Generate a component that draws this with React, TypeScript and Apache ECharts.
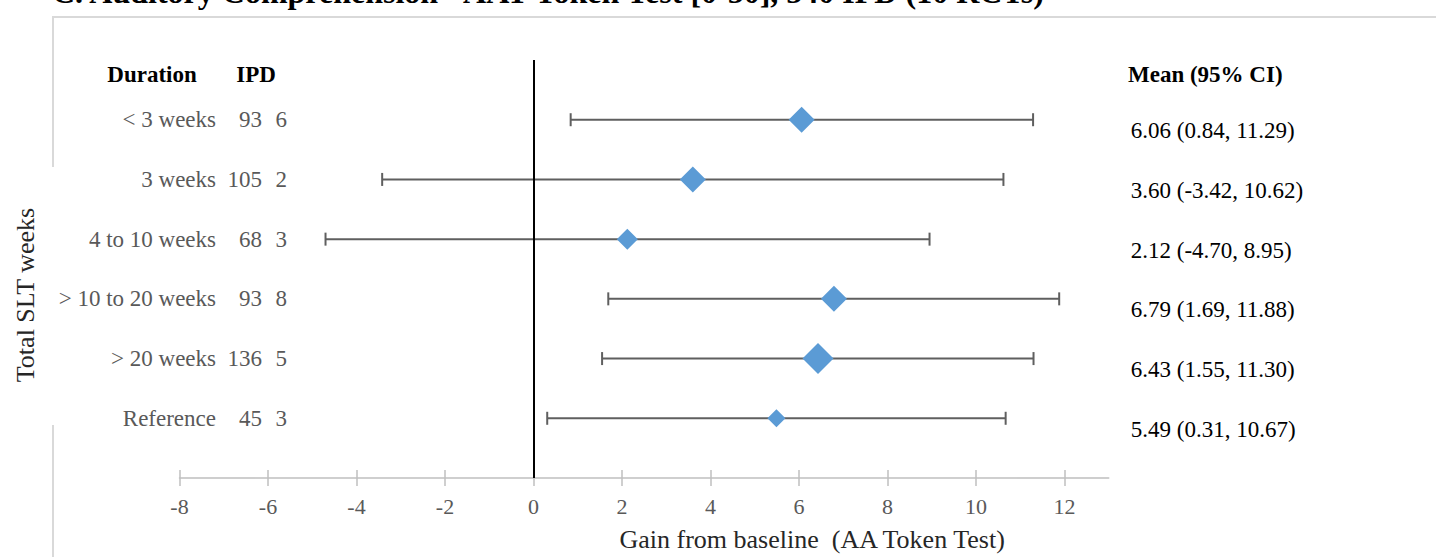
import React, { useEffect, useRef } from "react";
import * as echarts from "echarts";

const TITLE = "C. Auditory Comprehension - AAT Token Test [0-50], 540 IPD (10 RCTs)";
const categories = ["< 3 weeks", "3 weeks", "4 to 10 weeks", "> 10 to 20 weeks", "> 20 weeks", "Reference"];
const ipd = [93, 105, 68, 93, 136, 45];
const rcts = [6, 2, 3, 8, 5, 3];
const means = [6.06, 3.6, 2.12, 6.79, 6.43, 5.49];
const lowCI = [0.84, -3.42, -4.7, 1.69, 1.55, 0.31];
const highCI = [11.29, 10.62, 8.95, 11.88, 11.3, 10.67];
const markerSizes = [26, 26, 21, 26, 31, 18];
const xTicks = [-8, -6, -4, -2, 0, 2, 4, 6, 8, 10, 12];

const SERIF = "'Times New Roman', 'Liberation Serif', serif";
const N = categories.length;
const rowPos = categories.map((_, i) => N - i);

export default function App() {
  const ref = useRef<HTMLDivElement>(null);
  useEffect(() => {
    if (!ref.current) return;
    const chart = echarts.init(ref.current, null, { renderer: "svg" });
    const idxOf = (v: number) => N - Math.round(v);
    const option: any = {
      animation: false,
      backgroundColor: "#ffffff",
      grid: { left: 179.5, right: 327.25, top: 60, bottom: 77, containLabel: false },
      xAxis: [
        {
          type: "value",
          min: -8,
          max: 13,
          position: "bottom",
          axisLine: { show: true, lineStyle: { color: "#bfbfbf", width: 1.5 } },
          axisTick: { show: true, length: 8, inside: false, customValues: xTicks, lineStyle: { color: "#bfbfbf", width: 1.5 } },
          axisLabel: { show: true, customValues: xTicks, margin: 17, fontSize: 22, fontFamily: SERIF, color: "#595959" },
          splitLine: { show: false },
          name: "Gain from baseline  (AA Token Test)",
          nameLocation: "middle",
          nameGap: 48,
          nameTextStyle: { fontSize: 26, fontFamily: SERIF, color: "#262626", padding: [0, 0, 0, 336] },
        },
        {
          type: "value",
          min: -8,
          max: 13,
          position: "bottom",
          axisLine: { show: false },
          axisTick: { show: true, length: 8, inside: true, customValues: xTicks, lineStyle: { color: "#bfbfbf", width: 1.5 } },
          axisLabel: { show: false },
          splitLine: { show: false },
        },
      ],
      yAxis: [
        {
          type: "value",
          min: 0,
          max: 7,
          position: "left",
          axisLine: { show: false },
          axisTick: { show: false },
          splitLine: { show: false },
          axisLabel: {
            show: true,
            customValues: rowPos,
            margin: -107.5,
            align: "right",
            formatter: (v: number) => {
              const i = idxOf(v);
              return `{n|${categories[i]}}{i|${ipd[i]}}{r|${rcts[i]}}`;
            },
            rich: {
              n: { width: 160, align: "right", fontSize: 23, fontFamily: SERIF, color: "#595959" },
              i: { width: 46, align: "right", fontSize: 23, fontFamily: SERIF, color: "#595959" },
              r: { width: 25, align: "right", fontSize: 23, fontFamily: SERIF, color: "#595959" },
            },
          },
        },
        {
          type: "value",
          min: 0,
          max: 7,
          position: "right",
          axisLine: { show: false },
          axisTick: { show: false },
          splitLine: { show: false },
          axisLabel: {
            show: true,
            customValues: rowPos,
            margin: 22,
            verticalAlign: "top",
            lineHeight: 22,
            fontSize: 23,
            fontFamily: SERIF,
            color: "#000000",
            formatter: (v: number) => {
              const i = idxOf(v);
              return `${means[i].toFixed(2)} (${lowCI[i].toFixed(2)}, ${highCI[i].toFixed(2)})`;
            },
          },
        },
      ],
      series: [
        {
          type: "custom",
          xAxisIndex: 0,
          yAxisIndex: 0,
          encode: { x: [1, 2], y: 0 },
          data: rowPos.map((y, i) => [y, lowCI[i], highCI[i]]),
          z: 2,
          renderItem: (params: any, api: any) => {
            const y = api.value(0);
            const p1 = api.coord([api.value(1), y]);
            const p2 = api.coord([api.value(2), y]);
            const h = 6.5;
            const style = { stroke: "#5f5f5f", lineWidth: 2 };
            return {
              type: "group",
              children: [
                { type: "line", shape: { x1: p1[0], y1: p1[1], x2: p2[0], y2: p2[1] }, style },
                { type: "line", shape: { x1: p1[0], y1: p1[1] - h, x2: p1[0], y2: p1[1] + h }, style },
                { type: "line", shape: { x1: p2[0], y1: p2[1] - h, x2: p2[0], y2: p2[1] + h }, style },
              ],
            };
          },
        },
        {
          type: "scatter",
          xAxisIndex: 0,
          yAxisIndex: 0,
          z: 4,
          symbol: "diamond",
          symbolSize: (_v: any, p: any) => markerSizes[p.dataIndex],
          itemStyle: { color: "#5b9bd5", opacity: 1 },
          data: rowPos.map((y, i) => [means[i], y]),
          markLine: {
            silent: true,
            symbol: ["none", "none"],
            label: { show: false },
            lineStyle: { color: "#000000", width: 2, type: "solid" },
            data: [{ xAxis: 0 }],
            z: 3,
          },
        },
      ],
      graphic: [
        { type: "line", shape: { x1: 52, y1: 17, x2: 1436, y2: 17 }, style: { stroke: "#d9d9d9", lineWidth: 2 }, z: 0 },
        { type: "line", shape: { x1: 53, y1: 17, x2: 53, y2: 167 }, style: { stroke: "#d9d9d9", lineWidth: 2 }, z: 0 },
        { type: "line", shape: { x1: 53, y1: 425, x2: 53, y2: 557 }, style: { stroke: "#d9d9d9", lineWidth: 2 }, z: 0 },
        {
          type: "text",
          x: 52,
          y: -8,
          z: 10,
          style: { text: TITLE, font: `bold 32px ${SERIF}`, fill: "#000000", textAlign: "left", textVerticalAlign: "middle" },
        },
        {
          type: "text",
          x: 152,
          y: 74,
          style: { text: "Duration", font: `bold 23px ${SERIF}`, fill: "#000000", textAlign: "center", textVerticalAlign: "middle" },
        },
        {
          type: "text",
          x: 256,
          y: 74,
          style: { text: "IPD", font: `bold 23px ${SERIF}`, fill: "#000000", textAlign: "center", textVerticalAlign: "middle" },
        },
        {
          type: "text",
          x: 1128,
          y: 74,
          style: { text: "Mean (95% CI)", font: `bold 23px ${SERIF}`, fill: "#000000", textAlign: "left", textVerticalAlign: "middle" },
        },
        {
          type: "text",
          x: 25,
          y: 295,
          rotation: Math.PI / 2,
          style: { text: "Total SLT weeks", font: `26px ${SERIF}`, fill: "#262626", textAlign: "center", textVerticalAlign: "middle" },
        },
      ],
    };
    chart.setOption(option);
    return () => chart.dispose();
  }, []);
  return <div ref={ref} style={{ position: "absolute", left: 0, top: 0, width: 1436, height: 557 }} />;
}
